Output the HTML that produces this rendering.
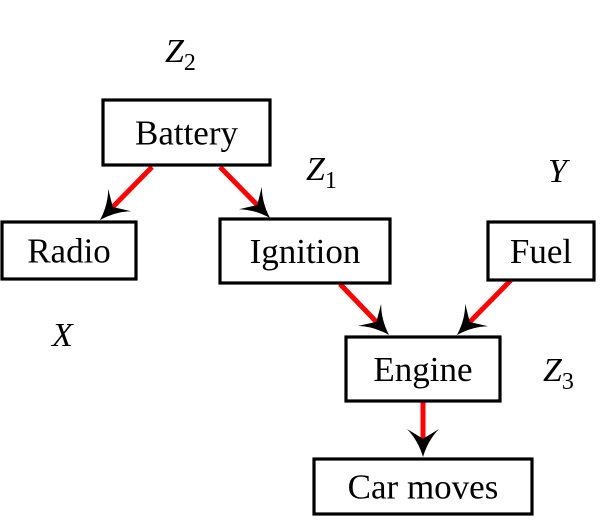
<!DOCTYPE html>
<html><head><meta charset="utf-8"><style>
html,body{margin:0;padding:0;background:#fff;}
svg, svg text{font-family:'Liberation Serif','DejaVu Serif','Noto Serif CJK SC',serif !important;}
</style></head><body>
<svg width="615" height="517" viewBox="0 0 615 517" xmlns="http://www.w3.org/2000/svg">
<g id="edges"></g>
<g id="nodes"></g>
<g font-style="italic" font-size="34">
<text x="165" y="62">Z<tspan font-style="normal" font-size="24" dy="8">2</tspan></text>
<text x="306" y="180">Z<tspan font-style="normal" font-size="24" dy="8">1</tspan></text>
<text x="548" y="182">Y</text>
<text x="52" y="346">X</text>
<text x="543" y="381">Z<tspan font-style="normal" font-size="24" dy="8">3</tspan></text>
</g>
</svg>
<script>
const nodeNames=["Battery","Radio","Ignition","Fuel","Engine","Car moves"];
const nodeBoxes=[[103,100,270,165],[2,222,136,279],[220,219,390,283],[488,222,594,280],[346,337,500,401],[314,459,532,514]];
const edgeList=[[0,1],[0,2],[2,4],[3,4],[4,5]];
const edgeEnds=[[152,167,100,220],[220,167,270,218],[340,284,389,335],[511,280,457,335],[423,401,423,457]];
const NS="http://www.w3.org/2000/svg";
const gN=document.getElementById('nodes'),gE=document.getElementById('edges');
nodeNames.forEach((n,i)=>{
  const b=nodeBoxes[i];
  const r=document.createElementNS(NS,'rect');
  r.setAttribute('x',b[0]);r.setAttribute('y',b[1]);r.setAttribute('width',b[2]-b[0]);r.setAttribute('height',b[3]-b[1]);
  r.setAttribute('fill','#fff');r.setAttribute('stroke','#000');r.setAttribute('stroke-width','3.2');
  
  
  gN.appendChild(r);
  const t=document.createElementNS(NS,'text');
  t.setAttribute('x',(b[0]+b[2])/2);t.setAttribute('y',(b[1]+b[3])/2+12);
  t.setAttribute('text-anchor','middle');t.setAttribute('font-size','35');
  t.textContent=n;
  
  
  gN.appendChild(t);
});
edgeEnds.forEach((e,i)=>{
  const [x1,y1,x2,y2]=e;
  const dx=x2-x1,dy=y2-y1,L=Math.hypot(dx,dy),ux=dx/L,uy=dy/L,px=-uy,py=ux;
  const hl=28,hw=16;
  const bx=x2-ux*hl,by=y2-uy*hl;
  const ln=document.createElementNS(NS,'line');
  ln.setAttribute('x1',x1);ln.setAttribute('y1',y1);ln.setAttribute('x2',bx+ux*10);ln.setAttribute('y2',by+uy*10);
  ln.setAttribute('stroke','#f00');ln.setAttribute('stroke-width','5');
  
  
  gE.appendChild(ln);
  const nx=x2-ux*hl*0.65,ny=y2-uy*hl*0.65;
  const p=document.createElementNS(NS,'path');
  p.setAttribute('d',`M${x2},${y2} Q${x2-ux*hl*0.6+px*5},${y2-uy*hl*0.6+py*5} ${bx+px*hw},${by+py*hw} L${nx},${ny} L${bx-px*hw},${by-py*hw} Q${x2-ux*hl*0.6-px*5},${y2-uy*hl*0.6-py*5} ${x2},${y2}Z`);
  p.setAttribute('fill','#000');
  
  
  gE.appendChild(p);
});
</script>
</body></html>
